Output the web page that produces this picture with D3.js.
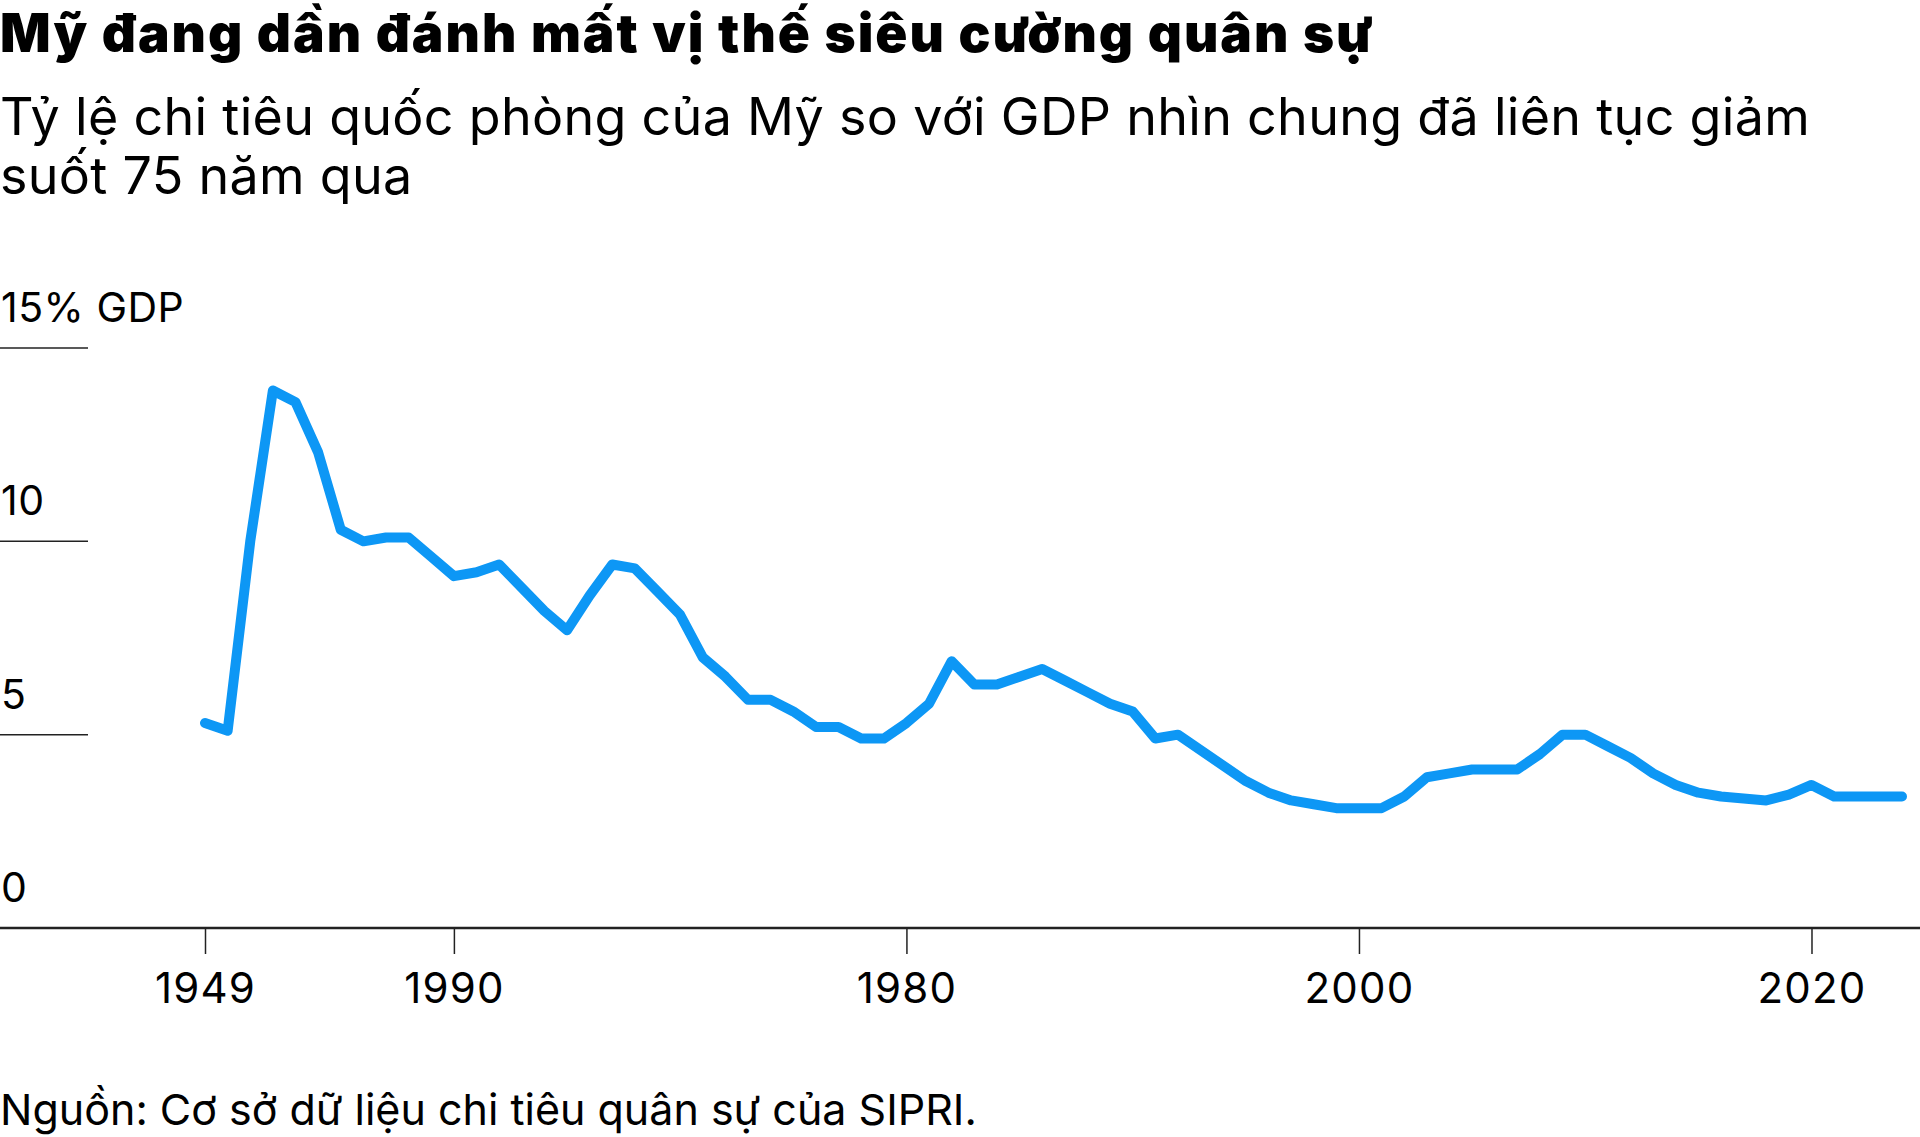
<!DOCTYPE html>
<html lang="vi">
<head>
<meta charset="utf-8">
<title>Mỹ đang dần đánh mất vị thế siêu cường quân sự</title>
<script src="https://cdn.jsdelivr.net/npm/d3@7"></script>
<style>
  html, body { margin: 0; padding: 0; background: #fff; }
  body { width: 1920px; height: 1137px; overflow: hidden; }
  svg { display: block; font-family: Inter, "Noto Sans", sans-serif; }
</style>
</head>
<body>
<div id="chart"></div>
<script>
// SIPRI: chi tiêu quân sự của Mỹ, % GDP
const years = d3.range(1949, 2025);
const spending = [
  5.3, 5.1, 10.0, 13.9, 13.6, 12.3, 10.3, 10.0, 10.1, 10.1,   // 1949-1958
  9.6, 9.1, 9.2, 9.4, 8.8, 8.2, 7.7, 8.6, 9.4, 9.3,           // 1959-1968
  8.7, 8.1, 7.0, 6.5, 5.9, 5.9, 5.6, 5.2, 5.2, 4.9,           // 1969-1978
  4.9, 5.3, 5.8, 6.9, 6.3, 6.3, 6.5, 6.7, 6.4, 6.1,           // 1979-1988
  5.8, 5.6, 4.9, 5.0, 4.6, 4.2, 3.8, 3.5, 3.3, 3.2,           // 1989-1998
  3.1, 3.1, 3.1, 3.4, 3.9, 4.0, 4.1, 4.1, 4.1, 4.5,           // 1999-2008
  5.0, 5.0, 4.7, 4.4, 4.0, 3.7, 3.5, 3.4, 3.35, 3.3,          // 2009-2018
  3.45, 3.7, 3.4, 3.4, 3.4, 3.4                               // 2019-2024
];

// tick labels exactly as printed in the original
const xTickValues = [1949, 1960, 1980, 2000, 2020];
const xTickLabels = ["1949", "1990", "1980", "2000", "2020"];
const yTickValues = [0, 5, 10, 15];
const yTickLabels = ["0", "5", "10", "15% GDP"];

const title = "Mỹ đang dần đánh mất vị thế siêu cường quân sự";
const subtitle = [
  "Tỷ lệ chi tiêu quốc phòng của Mỹ so với GDP nhìn chung đã liên tục giảm",
  "suốt 75 năm qua"
];
const source = "Nguồn: Cơ sở dữ liệu chi tiêu quân sự của SIPRI.";

const width = 1920, height = 1137;
const data = years.map((y, i) => ({ year: y, value: spending[i] }));

const svg = d3.select("#chart").append("svg")
    .attr("width", width)
    .attr("height", height);

const x = d3.scaleLinear()
    .domain([1949, 2024])
    .range([205, 1902]);

const y = d3.scaleLinear()
    .domain([0, 15])
    .range([928, 348]);

// headings
svg.append("text")
    .attr("x", 0)
    .attr("y", 52)
    .attr("font-size", 53)
    .attr("font-weight", 900)
    .attr("letter-spacing", "2px")
    .attr("fill", "#000")
    .text(title);

svg.append("g")
    .selectAll("text")
    .data(subtitle)
    .enter().append("text")
    .attr("x", 0)
    .attr("y", (d, i) => 135 + i * 59)
    .attr("font-size", 52)
    .attr("letter-spacing", "0.3px")
    .attr("fill", "#000")
    .text(d => d);

// short gridlines with labels sitting on top
const yGrid = svg.append("g").attr("class", "y-grid");
yGrid.selectAll("line")
    .data(yTickValues.filter(d => d > 0))
    .enter().append("line")
    .attr("x1", 0)
    .attr("x2", 88)
    .attr("y1", d => y(d))
    .attr("y2", d => y(d))
    .attr("stroke", "#222")
    .attr("stroke-width", 1.5);

yGrid.selectAll("text")
    .data(yTickValues)
    .enter().append("text")
    .attr("x", 1)
    .attr("y", d => y(d) - 26)
    .attr("font-size", 41)
    .attr("letter-spacing", "0.5px")
    .attr("fill", "#000")
    .text((d, i) => yTickLabels[i]);

// x axis
const xAxis = d3.axisBottom(x)
    .tickValues(xTickValues)
    .tickFormat((d, i) => xTickLabels[i])
    .tickSize(26)
    .tickPadding(16)
    .tickSizeOuter(0);

const gx = svg.append("g")
    .attr("transform", `translate(0,${y(0)})`)
    .call(xAxis);

gx.select(".domain")
    .attr("d", `M0,0H${width}`)
    .attr("stroke", "#222")
    .attr("stroke-width", 2.5);

gx.selectAll(".tick line")
    .attr("stroke", "#222")
    .attr("stroke-width", 1.5);

gx.selectAll(".tick text")
    .attr("font-family", "Inter, 'Noto Sans', sans-serif")
    .attr("font-size", 42)
    .attr("letter-spacing", "1.2px")
    .attr("fill", "#000")
    .attr("dy", null)
    .attr("y", 75);

// the series
const line = d3.line()
    .x(d => x(d.year))
    .y(d => y(d.value));

svg.append("path")
    .datum(data)
    .attr("d", line)
    .attr("fill", "none")
    .attr("stroke", "#0d97f5")
    .attr("stroke-width", 10)
    .attr("stroke-linejoin", "round")
    .attr("stroke-linecap", "round");

// source
svg.append("text")
    .attr("x", 0)
    .attr("y", 1125)
    .attr("font-size", 43)
    .attr("fill", "#000")
    .text(source);
</script>
</body>
</html>
